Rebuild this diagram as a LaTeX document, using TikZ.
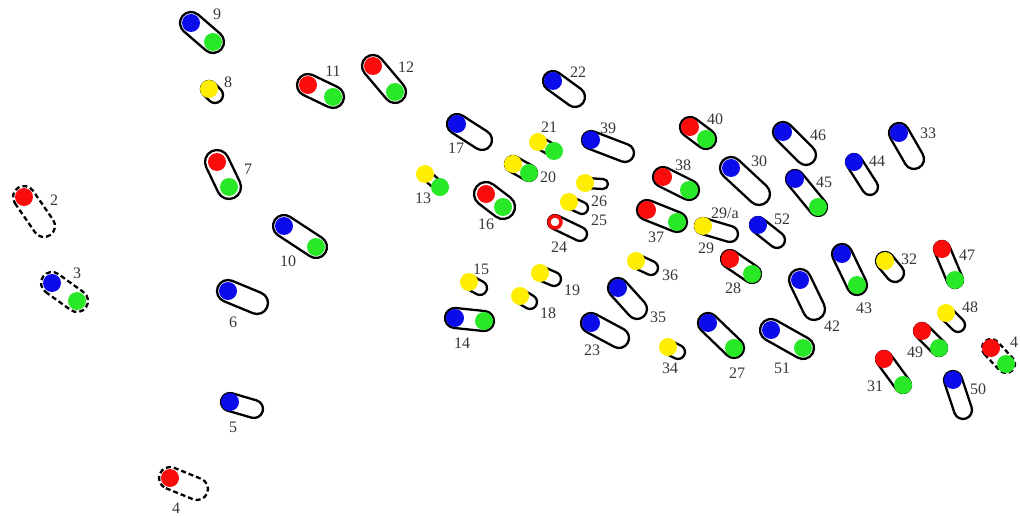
\documentclass[tikz,border=0pt]{standalone}
\usepackage{fontspec}
\setmainfont{Liberation Serif}
\definecolor{myred}{RGB}{250,12,12}
\definecolor{myblue}{RGB}{12,12,235}
\definecolor{mygreen}{RGB}{40,232,40}
\definecolor{myyellow}{RGB}{255,238,0}
\definecolor{lblgray}{RGB}{55,55,55}
\tikzset{
  capsule/.style={draw=black,line width=2.3pt,line join=round},
  dashcaps/.style={dash pattern=on 5pt off 3pt},
  lbl/.style={font=\fontsize{16}{16}\selectfont,text=lblgray,inner sep=0pt},
}
\newcommand\cps[6]{%
  \pgfmathsetmacro\cpxa{#2}\pgfmathsetmacro\cpya{515-#3}%
  \pgfmathsetmacro\cpxb{#4}\pgfmathsetmacro\cpyb{515-#5}%
  \pgfmathsetmacro\cpa{atan2(\cpyb-\cpya,\cpxb-\cpxa)}%
  \pgfmathsetmacro\cpl{veclen(\cpxb-\cpxa,\cpyb-\cpya)}%
  \draw[capsule,#1,shift={(\cpxa pt,\cpya pt)},rotate=\cpa]
    (0pt,-#6pt) -- (\cpl pt,-#6pt) arc[start angle=-90,end angle=90,radius=#6pt]
    -- (0pt,#6pt) arc[start angle=90,end angle=270,radius=#6pt] -- cycle;
}
\newcommand\dt[3]{\fill[#1] ({#2},{515-#3}) circle (9pt);}
\newcommand\lb[4]{\node[lbl] (#1) at ({#2},{515-#3}) {#4};}
\begin{document}
\begin{tikzpicture}[x=1pt,y=1pt]
\useasboundingbox (0,0) rectangle (1020,515);
% ---- left group
\cps{}{191}{23}{213}{42}{11}\dt{myblue}{191}{23}\dt{mygreen}{213}{42}\lb{l9}{217}{14}{9}
\cps{}{209}{89}{215}{95}{8}\dt{myyellow}{209}{89}\lb{l8}{228}{82}{8}
\cps{}{308}{85}{333}{97}{11}\dt{myred}{308}{85}\dt{mygreen}{333}{97}\lb{l11}{333}{71}{11}
\cps{}{373}{66}{395}{92}{11}\dt{myred}{373}{66}\dt{mygreen}{395}{92}\lb{l12}{406}{67}{12}
\cps{}{217}{162}{229}{187}{12}\dt{myred}{217}{162}\dt{mygreen}{229}{187}\lb{l7}{248}{169}{7}
\cps{dashcaps}{24}{197}{44}{226}{11}\dt{myred}{24}{197}\lb{l2}{54}{200}{2}
\cps{}{284}{226}{316}{247}{11}\dt{myblue}{284}{226}\dt{mygreen}{316}{247}\lb{l10}{288}{261}{10}
\cps{dashcaps}{52}{283}{77}{301}{11}\dt{myblue}{52}{283}\dt{mygreen}{77}{301}\lb{l3}{77}{273}{3}
\cps{}{228}{291}{257}{303}{11}\dt{myblue}{228}{291}\lb{l6}{233}{322}{6}
\cps{}{230}{402}{254}{409}{9}\dt{myblue}{230}{402}\lb{l5}{233}{427}{5}
\cps{dashcaps}{170}{478}{197}{489}{11}\dt{myred}{170}{478}\lb{l4}{176}{508}{4}
% ---- middle group
\cps{}{553}{81}{575}{97}{10}\dt{myblue}{553}{81}\lb{l22}{578}{72}{22}
\cps{}{457}{124}{482}{140}{10}\dt{myblue}{457}{124}\lb{l17}{456}{148}{17}
\cps{}{538}{142}{554}{151}{6}\dt{myyellow}{538}{142}\dt{mygreen}{554}{151}\lb{l21}{549}{127}{21}
\cps{}{513}{164}{529}{173}{8}\dt{myyellow}{513}{164}\dt{mygreen}{529}{173}\lb{l20}{548}{177}{20}
\cps{}{425}{174}{440}{187}{5}\dt{myyellow}{425}{174}\dt{mygreen}{440}{187}\lb{l13}{423}{198}{13}
\cps{}{486}{194}{503}{207}{12}\dt{myred}{486}{194}\dt{mygreen}{503}{207}\lb{l16}{486}{224}{16}
\cps{}{591}{140}{625}{153}{9}\dt{myblue}{591}{140}\lb{l39}{608}{128}{39}
\cps{}{585}{183}{603}{184}{5}\dt{myyellow}{585}{183}\lb{l26}{599}{201}{26}
\cps{}{569}{202}{582}{208}{6}\dt{myyellow}{569}{202}\lb{l25}{599}{220}{25}
\cps{}{555}{222}{580}{234}{7}\draw[myred,line width=3.5pt,fill=white] (555,{515-222}) circle (6pt);\lb{l24}{559}{247}{24}
\cps{}{690}{127}{706}{139}{10}\dt{myred}{690}{127}\dt{mygreen}{706}{139}\lb{l40}{715}{119}{40}
\cps{}{663}{177}{689}{190}{10}\dt{myred}{663}{177}\dt{mygreen}{689}{190}\lb{l38}{683}{165}{38}
\cps{}{647}{210}{677}{222}{10}\dt{myred}{647}{210}\dt{mygreen}{677}{222}\lb{l37}{656}{237}{37}
\cps{}{703}{226}{730}{234}{8}\dt{myyellow}{703}{226}\lb{l29a}{725}{213}{29/a}\lb{l29}{706}{248}{29}
\cps{}{469}{282}{480}{288}{7}\dt{myyellow}{469}{282}\lb{l15}{481}{269}{15}
\cps{}{540}{273}{554}{279}{7}\dt{myyellow}{540}{273}\lb{l19}{572}{290}{19}
\cps{}{520}{296}{530}{302}{7}\dt{myyellow}{520}{296}\lb{l18}{548}{313}{18}
\cps{}{455}{318}{484}{321}{10}\dt{myblue}{455}{318}\dt{mygreen}{484}{321}\lb{l14}{462}{343}{14}
\cps{}{636}{261}{651}{268}{7}\dt{myyellow}{636}{261}\lb{l36}{670}{275}{36}
\cps{}{618}{288}{637}{309}{10}\dt{myblue}{618}{288}\lb{l35}{658}{317}{35}
\cps{}{591}{323}{619}{338}{10}\dt{myblue}{591}{323}\lb{l23}{592}{350}{23}
\cps{}{668}{347}{678}{352}{7}\dt{myyellow}{668}{347}\lb{l34}{670}{368}{34}
% ---- right group
\cps{}{783}{132}{806}{155}{10}\dt{myblue}{783}{132}\lb{l46}{818}{135}{46}
\cps{}{731}{168}{759}{194}{11}\dt{myblue}{731}{168}\lb{l30}{759}{161}{30}
\cps{}{899}{133}{914}{159}{10}\dt{myblue}{899}{133}\lb{l33}{928}{133}{33}
\cps{}{854}{162}{870}{187}{8}\dt{myblue}{854}{162}\lb{l44}{877}{161}{44}
\cps{}{795}{179}{818}{207}{9}\dt{myblue}{795}{179}\dt{mygreen}{818}{207}\lb{l45}{824}{182}{45}
\cps{}{758}{225}{777}{240}{8}\dt{myblue}{758}{225}\lb{l52}{782}{219}{52}
\cps{}{730}{259}{752}{274}{9}\dt{myred}{730}{259}\dt{mygreen}{752}{274}\lb{l28}{733}{288}{28}
\cps{}{842}{254}{857}{285}{10}\dt{myblue}{842}{254}\dt{mygreen}{857}{285}\lb{l43}{864}{308}{43}
\cps{}{800}{280}{814}{309}{11}\dt{myblue}{800}{280}\lb{l42}{832}{326}{42}
\cps{}{885}{261}{895}{273}{9}\dt{myyellow}{885}{261}\lb{l32}{909}{259}{32}
\cps{}{942}{249}{955}{280}{8}\dt{myred}{942}{249}\dt{mygreen}{955}{280}\lb{l47}{967}{255}{47}
\cps{}{708}{323}{734}{348}{10}\dt{myblue}{708}{323}\dt{mygreen}{734}{348}\lb{l27}{737}{373}{27}
\cps{}{771}{330}{803}{348}{11}\dt{myblue}{771}{330}\dt{mygreen}{803}{348}\lb{l51}{782}{368}{51}
\cps{}{946}{313}{958}{325}{7}\dt{myyellow}{946}{313}\lb{l48}{970}{307}{48}
\cps{}{922}{331}{939}{348}{8}\dt{myred}{922}{331}\dt{mygreen}{939}{348}\lb{l49}{915}{352}{49}
\cps{}{884}{359}{903}{385}{8}\dt{myred}{884}{359}\dt{mygreen}{903}{385}\lb{l31}{875}{386}{31}
\cps{}{953}{380}{963}{410}{9}\dt{myblue}{953}{380}\lb{l50}{978}{389}{50}
\cps{dashcaps}{991}{348}{1006}{364}{9}\dt{myred}{991}{348}\dt{mygreen}{1006}{364}\lb{l41}{1014}{342}{4}
\end{tikzpicture}
\end{document}
